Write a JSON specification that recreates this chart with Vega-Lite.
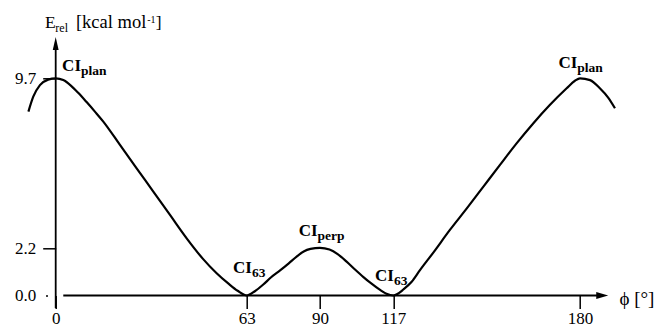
{
  "$schema": "https://vega.github.io/schema/vega-lite/v6.json",
  "autosize": {"type": "none"},
  "padding": {"left": 55.7, "top": 78.3, "right": 80, "bottom": 32.5},
  "width": 524.3,
  "height": 217.2,
  "background": "white",
  "config": {
    "view": {"stroke": null},
    "axis": {"labelFont": "Liberation Serif, Times New Roman, serif", "labelFontSize": 17, "labelColor": "black", "tickColor": "black", "grid": false, "domain": false, "title": null},
    "text": {"font": "Liberation Serif, Times New Roman, serif", "color": "black"}
  },
  "datasets": {
    "curve": [
      {"phi": -9.0, "E": 8.23}, {"phi": -7.4, "E": 8.89}, {"phi": -5.2, "E": 9.4}, {"phi": -2.5, "E": 9.64},
      {"phi": 0, "E": 9.7}, {"phi": 2.5, "E": 9.62}, {"phi": 5, "E": 9.38}, {"phi": 7.5, "E": 9.05},
      {"phi": 10.2, "E": 8.65}, {"phi": 13, "E": 8.22}, {"phi": 15.7, "E": 7.79}, {"phi": 21.2, "E": 6.76},
      {"phi": 26.7, "E": 5.73}, {"phi": 32.2, "E": 4.7}, {"phi": 37.7, "E": 3.67}, {"phi": 43.2, "E": 2.64},
      {"phi": 48.5, "E": 1.72}, {"phi": 53, "E": 1.05}, {"phi": 57, "E": 0.55}, {"phi": 60, "E": 0.22},
      {"phi": 63, "E": 0.0}, {"phi": 66, "E": 0.2}, {"phi": 69, "E": 0.5}, {"phi": 72, "E": 0.85},
      {"phi": 75.3, "E": 1.17}, {"phi": 78.5, "E": 1.5}, {"phi": 81.4, "E": 1.81}, {"phi": 84, "E": 2.05},
      {"phi": 86.5, "E": 2.17}, {"phi": 90, "E": 2.22}, {"phi": 93.5, "E": 2.14}, {"phi": 96.5, "E": 1.93},
      {"phi": 99.8, "E": 1.58}, {"phi": 103, "E": 1.2}, {"phi": 106, "E": 0.86}, {"phi": 109, "E": 0.55},
      {"phi": 112, "E": 0.27}, {"phi": 114.5, "E": 0.08}, {"phi": 117, "E": 0.0}, {"phi": 118.5, "E": 0.08},
      {"phi": 120.4, "E": 0.28}, {"phi": 123.2, "E": 0.64}, {"phi": 126.0, "E": 1.18}, {"phi": 130.5, "E": 2.0},
      {"phi": 136.1, "E": 3.01}, {"phi": 141.8, "E": 3.96}, {"phi": 147.4, "E": 4.92}, {"phi": 153.0, "E": 5.88},
      {"phi": 158.6, "E": 6.83}, {"phi": 164.2, "E": 7.71}, {"phi": 169.8, "E": 8.52}, {"phi": 175.5, "E": 9.26},
      {"phi": 178.3, "E": 9.59}, {"phi": 180, "E": 9.7}, {"phi": 183.4, "E": 9.62}, {"phi": 186.7, "E": 9.26},
      {"phi": 189.5, "E": 8.85}, {"phi": 191.8, "E": 8.38}
    ],
    "states": [
      {"phi": 8.35, "E": 10.02, "main": "CI", "sub": "plan"},
      {"phi": 64.95, "E": 1.03, "main": "CI", "sub": "63"},
      {"phi": 89.1, "E": 2.74, "main": "CI", "sub": "perp"},
      {"phi": 117.2, "E": 0.68, "main": "CI", "sub": "63"},
      {"phi": 179.1, "E": 10.14, "main": "CI", "sub": "plan"}
    ],
    "titles": [
      {"phi": -3.53, "E": 11.906, "t": "E"},
      {"phi": 33.0, "E": 11.906, "t": "]"}
    ],
    "titlesRight": [
      {"phi": 29.9, "E": 11.906, "t": "[kcal mol"}
    ],
    "phiTitle": [
      {"phi": 193.3, "E": -0.44, "t": "ϕ [°]"}
    ],
    "smalltitles": [
      {"phi": -0.13, "E": 11.756, "t": "rel"}
    ],
    "suptitles": [
      {"phi": 30.2, "E": 12.14, "t": "-1"}
    ],
    "one": [{}]
  },
  "layer": [
    {
      "data": {"name": "curve"},
      "mark": {"type": "line", "color": "black", "strokeWidth": 2.2, "interpolate": "monotone"},
      "encoding": {
        "x": {"field": "phi", "type": "quantitative",
              "scale": {"domain": [0, 63, 90, 117, 180], "range": [0, 191, 264.3, 337.6, 524.3], "nice": false, "zero": false},
              "axis": {"orient": "bottom", "values": [0, 63, 90, 117, 180], "tickSize": 13, "tickWidth": 1.5, "labelPadding": 2, "labelFlush": false, "labelOverlap": false}},
        "y": {"field": "E", "type": "quantitative",
              "scale": {"domain": [0, 2.2, 9.7], "range": [217.2, 170, 0], "nice": false, "zero": false},
              "axis": {"orient": "left", "values": [0, 2.2, 9.7], "format": ".1f", "tickSize": 13, "tickWidth": 1.5, "labelPadding": 7,
                       "tickOpacity": {"condition": {"test": "datum.value === 0", "value": 0}, "value": 1}}}
      }
    },
    {
      "data": {"name": "one"},
      "mark": {"type": "rule", "color": "black", "strokeWidth": 1.8},
      "encoding": {"x": {"datum": 2.5, "type": "quantitative"}, "x2": {"datum": 186}, "y": {"datum": 0, "type": "quantitative"}}
    },
    {
      "data": {"name": "one"},
      "mark": {"type": "rule", "color": "black", "strokeWidth": 1.8},
      "encoding": {"x": {"datum": 0, "type": "quantitative"}, "y": {"datum": -0.58, "type": "quantitative"}, "y2": {"datum": 11.2}}
    },
    {
      "data": {"name": "one"},
      "mark": {"type": "point", "filled": true, "color": "black", "opacity": 1, "size": 144, "shape": "M-1,-0.6L1,0L-1,0.6Z"},
      "encoding": {"x": {"datum": 187.5, "type": "quantitative"}, "y": {"datum": 0, "type": "quantitative"}}
    },
    {
      "data": {"name": "one"},
      "mark": {"type": "point", "filled": true, "color": "black", "opacity": 1, "size": 169, "shape": "M-0.45,1L0,-1L0.45,1Z"},
      "encoding": {"x": {"datum": 0, "type": "quantitative"}, "y": {"datum": 11.23, "type": "quantitative"}}
    },
    {
      "data": {"name": "one"},
      "mark": {"type": "point", "filled": true, "color": "black", "opacity": 1, "size": 4, "shape": "circle"},
      "encoding": {"x": {"datum": -2.87, "type": "quantitative"}, "y": {"datum": -0.02, "type": "quantitative"}}
    },
    {
      "data": {"name": "states"},
      "mark": {"type": "text", "align": "right", "baseline": "alphabetic", "fontWeight": "bold", "fontSize": 17},
      "encoding": {"x": {"field": "phi", "type": "quantitative"}, "y": {"field": "E", "type": "quantitative"}, "text": {"field": "main"}}
    },
    {
      "data": {"name": "states"},
      "mark": {"type": "text", "align": "left", "baseline": "alphabetic", "fontWeight": "bold", "fontSize": 13.5, "dy": 4},
      "encoding": {"x": {"field": "phi", "type": "quantitative"}, "y": {"field": "E", "type": "quantitative"}, "text": {"field": "sub"}}
    },
    {
      "data": {"name": "titles"},
      "mark": {"type": "text", "align": "left", "baseline": "alphabetic", "fontSize": 17.5},
      "encoding": {"x": {"field": "phi", "type": "quantitative"}, "y": {"field": "E", "type": "quantitative"}, "text": {"field": "t"}}
    },
    {
      "data": {"name": "titlesRight"},
      "mark": {"type": "text", "align": "right", "baseline": "alphabetic", "fontSize": 18.5},
      "encoding": {"x": {"field": "phi", "type": "quantitative"}, "y": {"field": "E", "type": "quantitative"}, "text": {"field": "t"}}
    },
    {
      "data": {"name": "phiTitle"},
      "mark": {"type": "text", "align": "left", "baseline": "alphabetic", "fontSize": 19},
      "encoding": {"x": {"field": "phi", "type": "quantitative"}, "y": {"field": "E", "type": "quantitative"}, "text": {"field": "t"}}
    },
    {
      "data": {"name": "smalltitles"},
      "mark": {"type": "text", "align": "left", "baseline": "alphabetic", "fontSize": 12},
      "encoding": {"x": {"field": "phi", "type": "quantitative"}, "y": {"field": "E", "type": "quantitative"}, "text": {"field": "t"}}
    },
    {
      "data": {"name": "suptitles"},
      "mark": {"type": "text", "align": "left", "baseline": "alphabetic", "fontSize": 10},
      "encoding": {"x": {"field": "phi", "type": "quantitative"}, "y": {"field": "E", "type": "quantitative"}, "text": {"field": "t"}}
    }
  ]
}
